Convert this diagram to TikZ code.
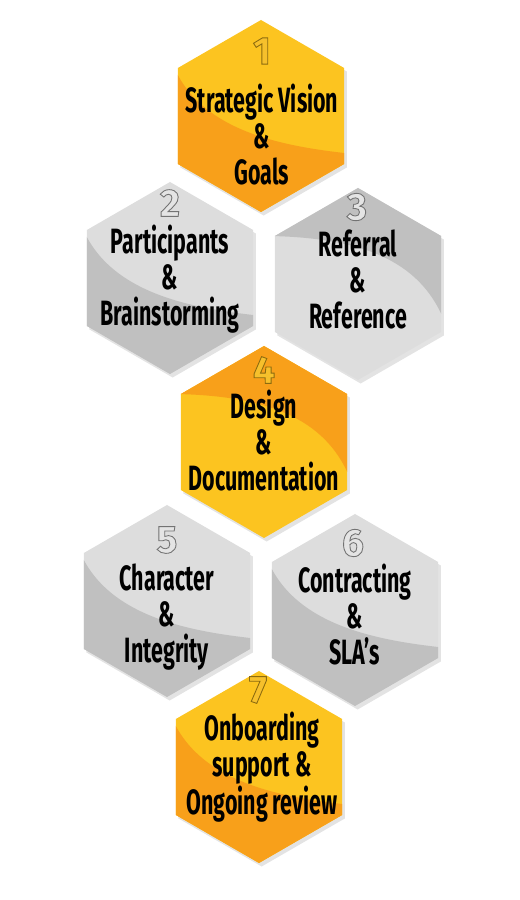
\documentclass[tikz,border=0pt]{standalone}
\usepackage{fontspec}
\newfontfamily\hexfont{Fira Sans}[FakeStretch=0.61]
\newfontfamily\numfont{Fira Sans}
\usepackage{tikz}
\usetikzlibrary{shapes.geometric,shadows}

\definecolor{goldlight}{RGB}{252,196,32}
\definecolor{golddark}{RGB}{248,160,26}
\definecolor{greylight}{RGB}{221,221,221}
\definecolor{greydark}{RGB}{192,192,192}
\definecolor{goldnum}{RGB}{246,192,44}
\definecolor{greynum}{RGB}{228,228,228}

% outlined digit: fill from text colour, stroke given as r g b
\newcommand{\embossed}[2]{\special{pdf:literal direct 2 Tr 0.5 w #1 RG}#2\special{pdf:literal direct 0 Tr}}

\tikzset{
  hexcell/.style={regular polygon, regular polygon sides=6, shape border rotate=90,
    minimum size=3.84cm, inner sep=0pt, fill=#1,
    drop shadow={shadow xshift=1.5pt, shadow yshift=-2pt, opacity=.22}},
  curllow/.style={path picture={
    \fill[#1, shift={(path picture bounding box.center)}]
      (-1.75,1.0) .. controls (-1.2,-0.3) and (0.4,-0.6) .. (1.75,-0.75)
      -- (1.75,-2) -- (-1.75,-2) -- cycle;}},
  curlhigh/.style={path picture={
    \fill[#1, shift={(path picture bounding box.center)}]
      (-1.75,0.96) .. controls (0.2,0.92) and (1.3,0.4) .. (1.75,-0.8)
      -- (1.75,2) -- (-1.75,2) -- cycle;}},
  hextext/.style={font=\hexfont\bfseries\fontsize{20}{20.5}\selectfont, align=center,
    text=black, inner sep=0pt},
  hexnum/.style={font=\numfont\bfseries\fontsize{22}{22}\selectfont, text=#1, inner sep=0pt}
}

\begin{document}
\begin{tikzpicture}
  \useasboundingbox (0,0) rectangle (10.4,18);

  \node[hexcell=goldlight, curllow=golddark] (h1) at (5.22,15.68) {};
  \node[hexcell=greylight, curllow=greydark] (h2) at (3.40,12.44) {};
  \node[hexcell=greylight, curlhigh=greydark] (h3) at (7.16,12.32) {};
  \node[hexcell=goldlight, curlhigh=golddark] (h4) at (5.28,9.16) {};
  \node[hexcell=greylight, curllow=greydark] (h5) at (3.34,5.98) {};
  \node[hexcell=greylight, curllow=greydark] (h6) at (7.10,5.80) {};
  \node[hexcell=goldlight, curllow=golddark] (h7) at (5.18,2.66) {};

  \node[hexnum=goldnum] (n1) at (5.24,16.98) {\embossed{0.55 0.42 0.06}{1}};
  \node[hexnum=greynum] (n2) at (3.40,13.94) {\embossed{0.45 0.45 0.45}{2}};
  \node[hexnum=greynum] (n3) at (7.14,13.86) {\embossed{0.45 0.45 0.45}{3}};
  \node[hexnum=goldnum] (n4) at (5.28,10.60) {\embossed{0.55 0.42 0.06}{4}};
  \node[hexnum=greynum] (n5) at (3.34,7.20) {\embossed{0.45 0.45 0.45}{5}};
  \node[hexnum=greynum] (n6) at (7.06,7.14) {\embossed{0.45 0.45 0.45}{6}};
  \node[hexnum=goldnum] (n7) at (5.16,4.20) {\embossed{0.55 0.42 0.06}{7}};

  \node[hextext] (t1) at (5.24,15.30) {Strategic Vision\\\&\\Goals};
  \node[hextext] (t2) at (3.40,12.42) {Participants\\\&\\Brainstorming};
  \node[hextext] (t3) at (7.16,12.42) {Referral\\\&\\Reference};
  \node[hextext] (t4) at (5.28,9.18) {Design\\\&\\Documentation};
  \node[hextext] (t5) at (3.34,5.66) {Character\\\&\\Integrity};
  \node[hextext] (t6) at (7.10,5.70) {Contracting\\\&\\SLA’s};
  \node[hextext] (t7) at (5.24,2.66) {Onboarding\\support \&\\Ongoing review};
\end{tikzpicture}
\end{document}
